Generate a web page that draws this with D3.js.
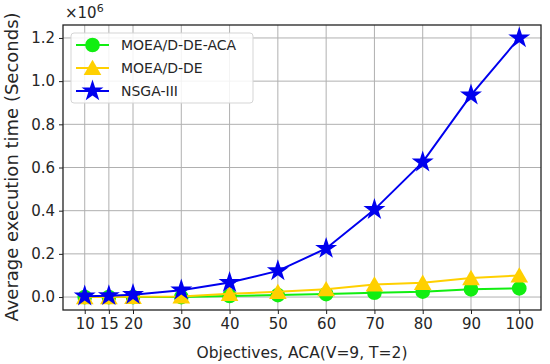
<!DOCTYPE html>
<html>
<head>
<meta charset="utf-8">
<script src="https://cdn.jsdelivr.net/npm/d3@7"></script>
<style>
  body { margin: 0; background: #fff; }
  text { font-family: "DejaVu Sans", sans-serif; fill: #262626; }
</style>
</head>
<body>
<div id="chart"></div>
<script>
    // objectives on x axis
    var objectives = [10, 15, 20, 30, 40, 50, 60, 70, 80, 90, 100];
    // execution time, x10^6 seconds
    var acaTimes = [0.0, 0.0, 0.0, 0.0, 0.005, 0.009, 0.014, 0.02, 0.025, 0.036, 0.04];
    var deTimes = [0.0, 0.0, 0.001, 0.003, 0.015, 0.024, 0.036, 0.058, 0.066, 0.088, 0.1];
    var nsgaTimes = [0.004, 0.006, 0.011, 0.032, 0.067, 0.121, 0.225, 0.405, 0.625, 0.935, 1.2];
    var yTicks = [0.0, 0.2, 0.4, 0.6, 0.8, 1.0, 1.2];
    var seriesNames = ["MOEA/D-DE-ACA", "MOEA/D-DE", "NSGA-III"];

    var series = [
      {name: seriesNames[0], values: acaTimes, color: "#11ee11", marker: "circle"},
      {name: seriesNames[1], values: deTimes, color: "#ffd000", marker: "triangle"},
      {name: seriesNames[2], values: nsgaTimes, color: "#0000ee", marker: "star"}
    ];

    var width = 550,
    height = 364,
    margin = {top: 25, right: 9, bottom: 54, left: 63};

    var x = d3.scaleLinear()
      .domain([5.5, 104.5])
      .range([margin.left, width - margin.right]);

    var y = d3.scaleLinear()
      .domain([-0.06, 1.26])
      .range([height - margin.bottom, margin.top]);

    var svg = d3.select("#chart").append("svg")
      .attr("width", width)
      .attr("height", height);

    // grid
    svg.append("g")
      .selectAll("line.gx")
      .data(objectives)
      .enter().append("line")
      .attr("x1", function(d) { return x(d); })
      .attr("x2", function(d) { return x(d); })
      .attr("y1", margin.top)
      .attr("y2", height - margin.bottom)
      .attr("stroke", "#b0b0b0")
      .attr("stroke-width", 1);

    svg.append("g")
      .selectAll("line.gy")
      .data(yTicks)
      .enter().append("line")
      .attr("x1", margin.left)
      .attr("x2", width - margin.right)
      .attr("y1", function(d) { return y(d); })
      .attr("y2", function(d) { return y(d); })
      .attr("stroke", "#b0b0b0")
      .attr("stroke-width", 1);

    // axes
    var xAxis = svg.append("g")
      .attr("transform", "translate(0," + (height - margin.bottom) + ")")
      .call(d3.axisBottom(x).tickValues(objectives).tickSize(4).tickPadding(4).tickSizeOuter(0));

    var yAxis = svg.append("g")
      .attr("transform", "translate(" + margin.left + ",0)")
      .call(d3.axisLeft(y).tickValues(yTicks).tickFormat(d3.format(".1f")).tickSize(4).tickPadding(4).tickSizeOuter(0));

    [xAxis, yAxis].forEach(function(a) {
      a.select(".domain").remove();
      a.selectAll("line").attr("stroke", "#222");
      a.selectAll("text").attr("font-size", 15).attr("fill", "#262626")
        .style("font-family", "DejaVu Sans, sans-serif");
    });

    // frame
    svg.append("rect")
      .attr("x", margin.left)
      .attr("y", margin.top)
      .attr("width", width - margin.left - margin.right)
      .attr("height", height - margin.top - margin.bottom)
      .attr("fill", "none")
      .attr("stroke", "#222")
      .attr("stroke-width", 1.3);

    var symbols = {
      circle: d3.symbol().type(d3.symbolCircle).size(170),
      triangle: d3.symbol().type(d3.symbolTriangle).size(135),
      star: d3.symbol().type(d3.symbolStar).size(150)
    };

    var line = d3.line()
      .x(function(d) { return x(d[0]); })
      .y(function(d) { return y(d[1]); });

    svg.append("clipPath").attr("id", "plotclip")
      .append("rect")
      .attr("x", margin.left)
      .attr("y", margin.top)
      .attr("width", width - margin.left - margin.right)
      .attr("height", height - margin.top - margin.bottom);

    var plot = svg.append("g").attr("clip-path", "url(#plotclip)");

    series.forEach(function(s) {
      var pts = objectives.map(function(o, i) { return [o, s.values[i]]; });
      var g = plot.append("g");
      g.append("path")
        .attr("d", line(pts))
        .attr("fill", "none")
        .attr("stroke", s.color)
        .attr("stroke-width", 2);
      g.selectAll("path.m")
        .data(pts)
        .enter().append("path")
        .attr("class", "m")
        .attr("d", symbols[s.marker])
        .attr("transform", function(d) {
          var dy = s.marker === "triangle" ? 2 : 0;
          return "translate(" + x(d[0]) + "," + (y(d[1]) + dy) + ")";
        })
        .attr("fill", s.color);
    });

    // multiplier label
    svg.append("text")
      .attr("x", 65)
      .attr("y", 18)
      .attr("font-size", 15)
      .html("×10<tspan dy='-6' font-size='11'>6</tspan>");

    // axis labels
    svg.append("text")
      .attr("text-anchor", "middle")
      .attr("x", 302)
      .attr("y", 358)
      .attr("font-size", 15.5)
      .text("Objectives, ACA(V=9, T=2)");

    svg.append("text")
      .attr("text-anchor", "middle")
      .attr("transform", "translate(18,167) rotate(-90)")
      .attr("font-size", 18)
      .text("Average execution time (Seconds)");

    // legend
    var legend = svg.append("g").attr("transform", "translate(71,33)");
    legend.append("rect")
      .attr("width", 182)
      .attr("height", 70)
      .attr("rx", 3)
      .attr("fill", "#fff")
      .attr("fill-opacity", 0.85)
      .attr("stroke", "#d5d5d5");

    var item = legend.selectAll("g.item")
      .data(series)
      .enter().append("g")
      .attr("transform", function(d, i) { return "translate(0," + (12 + i * 23) + ")"; });

    item.append("line")
      .attr("x1", 5).attr("x2", 38)
      .attr("stroke", function(d) { return d.color; })
      .attr("stroke-width", 2);

    item.append("path")
      .attr("d", function(d) { return symbols[d.marker](); })
      .attr("transform", function(d) { return "translate(21.5," + (d.marker === "triangle" ? 2 : 0) + ")"; })
      .attr("fill", function(d) { return d.color; });

    item.append("text")
      .attr("x", 50)
      .attr("y", 5)
      .attr("font-size", 14)
      .text(function(d) { return d.name; });
</script>
</body>
</html>
